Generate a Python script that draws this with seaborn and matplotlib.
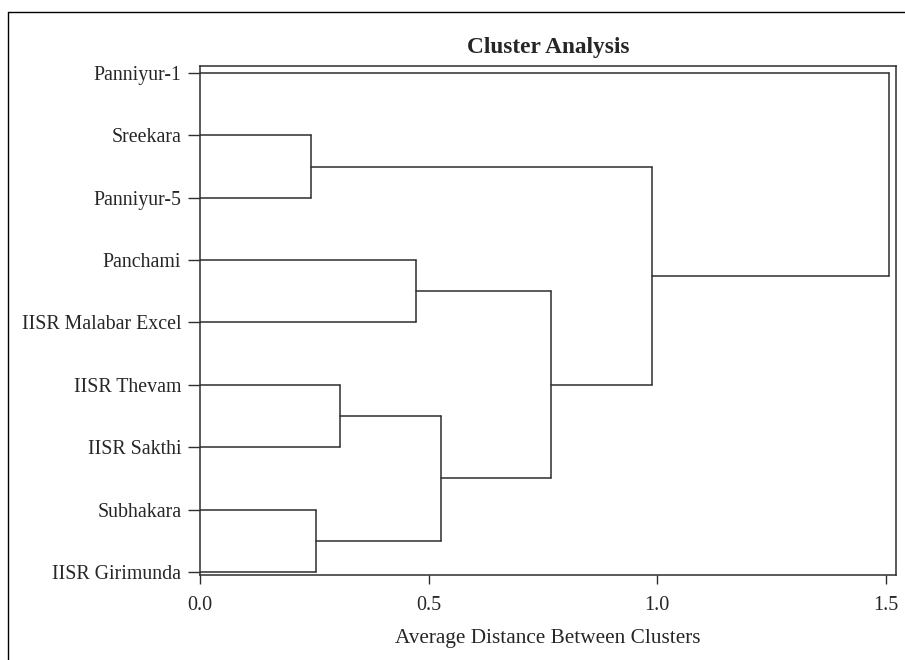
import matplotlib
matplotlib.use("Agg")
import matplotlib.pyplot as plt
from matplotlib.lines import Line2D
import numpy as np
import pandas as pd
import seaborn as sns

# Leaves, top to bottom
labels = ["Panniyur-1", "Sreekara", "Panniyur-5", "Panchami",
          "IISR Malabar Excel", "IISR Thevam", "IISR Sakthi",
          "Subhakara", "IISR Girimunda"]

# Agglomeration steps: node ids 0..8 are leaves, 9+ are merged clusters
merge_left = [1, 7, 5, 3, 11, 12, 9, 0]
merge_right = [2, 8, 6, 4, 10, 13, 14, 15]
merge_height = [0.243, 0.254, 0.306, 0.472, 0.526, 0.767, 0.988, 1.507]

xticks = [0.0, 0.5, 1.0, 1.5]

# Build dendrogram segments (elbow style, horizontal)
n = len(labels)
pos = {i: float(i) for i in range(n)}
hgt = {i: 0.0 for i in range(n)}
rows = []
seg = 0
for k, (a, b, h) in enumerate(zip(merge_left, merge_right, merge_height)):
    node = n + k
    for child in (a, b):
        rows += [(seg, hgt[child], pos[child]), (seg, h, pos[child])]
        seg += 1
    rows += [(seg, h, pos[a]), (seg, h, pos[b])]
    seg += 1
    pos[node] = (pos[a] + pos[b]) / 2
    hgt[node] = h
segments = pd.DataFrame(rows, columns=["seg", "distance", "leaf"])

sns.set_style("white")
plt.rcParams["font.family"] = ["Liberation Serif", "DejaVu Serif"]

line_color = "#2e2e2e"
fig = plt.figure(figsize=(9.05, 6.6), dpi=100)
ax = fig.add_axes([200 / 905, 85 / 660, 696 / 905, 509 / 660])

sns.lineplot(data=segments, x="distance", y="leaf", units="seg",
             estimator=None, sort=False, color=line_color, lw=1.1, ax=ax)

ax.set_xlim(0, 1.522)
ax.set_ylim(8.048, -0.112)
ax.set_yticks(range(n))
ax.set_yticklabels(labels, fontsize=14.3)
ax.set_xticks(xticks)
ax.set_xticklabels([f"{t:.1f}" for t in xticks], fontsize=14.5)
ax.tick_params(axis="y", direction="out", length=8.5, width=1.0,
               color=line_color, pad=5, left=True)
ax.tick_params(axis="x", direction="out", length=6.5, width=1.0,
               color=line_color, pad=8.5, bottom=True)
for s in ax.spines.values():
    s.set_visible(True)
    s.set_color(line_color)
    s.set_linewidth(1.1)

ax.set_ylabel("")
ax.set_xlabel("Average Distance Between Clusters", fontsize=15.3, labelpad=10.5)
fig.text(548 / 905, 1 - 47.5 / 660, "Cluster Analysis", fontsize=16.8,
         fontweight="bold", ha="center", va="center")

# Outer frame edges
fig.add_artist(Line2D([8 / 905, 8 / 905], [0, 1 - 12 / 660],
                      transform=fig.transFigure, color="black", lw=1.0))
fig.add_artist(Line2D([8 / 905, 1], [1 - 12 / 660, 1 - 12 / 660],
                      transform=fig.transFigure, color="black", lw=1.0))

fig.savefig("out.png", dpi=100)
